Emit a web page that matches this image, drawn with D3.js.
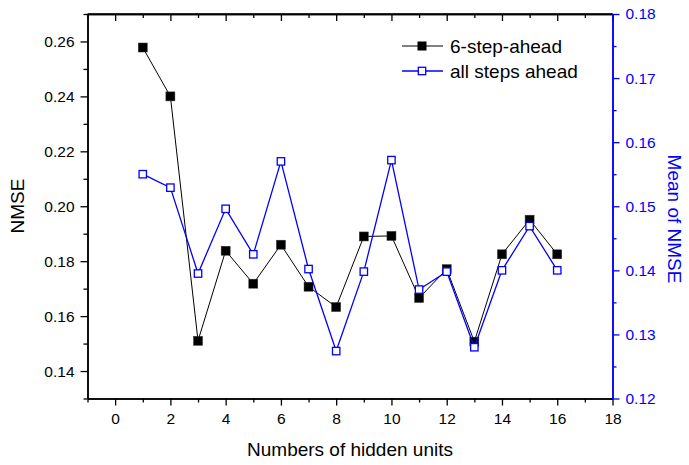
<!DOCTYPE html>
<html>
<head>
<meta charset="utf-8">
<script src="https://cdn.jsdelivr.net/npm/d3@7"></script>
<style>
  body { margin: 0; background: #fff; }
  text { font-family: "Liberation Sans", Arial, sans-serif; }
</style>
</head>
<body>
<script>
const WIDTH = 689;
const HEIGHT = 465;

// hidden units on x
const units = [1,2,3,4,5,6,7,8,9,10,11,12,13,14,15,16];
// 6-step-ahead NMSE (left axis)
const sixStep = [0.2578,0.2400,0.1510,0.1838,0.1718,0.1860,0.1707,0.1633,0.1890,0.1892,0.1666,0.1771,0.1507,0.1825,0.1951,0.1825];
// mean NMSE over all steps ahead (right axis)
const allSteps = [0.1550,0.1529,0.1395,0.1496,0.1425,0.1570,0.1402,0.1274,0.1398,0.1572,0.1370,0.1398,0.1280,0.1400,0.1469,0.1400];

const xTicks = [0,2,4,6,8,10,12,14,16,18];
const leftTicks = [0.14,0.16,0.18,0.20,0.22,0.24,0.26];
const rightTicks = [0.12,0.13,0.14,0.15,0.16,0.17,0.18];

function setup(){
    let svg = d3.select("body")
        .append("svg")
        .attr("width",WIDTH)
        .attr("height",HEIGHT);

    let x = d3.scaleLinear().domain([-1,18]).range([87.5,612.5]);
    let yL = d3.scaleLinear().domain([0.13,0.27]).range([398.5,14]);
    let yR = d3.scaleLinear().domain([0.12,0.18]).range([398.5,14]);

    let minorX = d3.range(-1,18,2);
    let minorL = d3.range(0.13,0.271,0.02).map(d => +d.toFixed(2));
    let minorR = d3.range(0.125,0.18,0.01).map(d => +d.toFixed(3));

    function styleAxis(g,color){
        g.selectAll("path").attr("stroke",color).attr("stroke-width",1.5);
        g.selectAll("line").attr("stroke",color).attr("stroke-width",1.3);
        g.selectAll("text").attr("fill",color).style("font-size","15.5px")
            .style("font-family","'Liberation Sans', Arial, sans-serif");
    }

    // top frame line
    svg.append("line")
        .attr("x1",x(-1)).attr("x2",x(18))
        .attr("y1",14).attr("y2",14)
        .attr("stroke","#000").attr("stroke-width",1.5);

    // bottom axis
    let gb = svg.append("g").attr("transform","translate(0,398.5)")
        .call(d3.axisBottom(x).tickValues(xTicks).tickFormat(d3.format("d")).tickSize(7).tickSizeOuter(0).tickPadding(7));
    styleAxis(gb,"#000");
    let gbm = svg.append("g").attr("transform","translate(0,398.5)")
        .call(d3.axisBottom(x).tickValues(minorX).tickFormat("").tickSize(4).tickSizeOuter(0));
    styleAxis(gbm,"#000");

    // top axis, ticks inward
    let gt = svg.append("g").attr("transform","translate(0,14)")
        .call(d3.axisBottom(x).tickValues(xTicks).tickFormat("").tickSize(7).tickSizeOuter(0));
    styleAxis(gt,"#000");
    let gtm = svg.append("g").attr("transform","translate(0,14)")
        .call(d3.axisBottom(x).tickValues(minorX).tickFormat("").tickSize(4).tickSizeOuter(0));
    styleAxis(gtm,"#000");

    // left axis
    let gl = svg.append("g").attr("transform","translate(87.5,0)")
        .call(d3.axisLeft(yL).tickValues(leftTicks).tickFormat(d3.format(".2f")).tickSize(7).tickSizeOuter(0).tickPadding(6));
    styleAxis(gl,"#000");
    let glm = svg.append("g").attr("transform","translate(87.5,0)")
        .call(d3.axisLeft(yL).tickValues(minorL).tickFormat("").tickSize(4).tickSizeOuter(0));
    styleAxis(glm,"#000");

    // right axis (blue)
    let gr = svg.append("g").attr("transform","translate(612.5,0)")
        .call(d3.axisRight(yR).tickValues(rightTicks).tickFormat(d3.format(".2f")).tickSize(7).tickSizeOuter(0).tickPadding(6));
    styleAxis(gr,"#0000ff");
    let grm = svg.append("g").attr("transform","translate(612.5,0)")
        .call(d3.axisRight(yR).tickValues(minorR).tickFormat("").tickSize(4).tickSizeOuter(0));
    styleAxis(grm,"#0000ff");

    // axis titles
    svg.append("text")
        .attr("transform","translate(24,206) rotate(-90)")
        .attr("text-anchor","middle")
        .style("font-size","19px")
        .text("NMSE");
    svg.append("text")
        .attr("transform","translate(668,219) rotate(90)")
        .attr("text-anchor","middle")
        .attr("fill","#0000ff")
        .style("font-size","19px")
        .text("Mean of NMSE");
    svg.append("text")
        .attr("x",350).attr("y",456)
        .attr("text-anchor","middle")
        .style("font-size","19px")
        .text("Numbers of hidden units");

    // 6-step-ahead series
    let blackData = units.map((u,i) => [u,sixStep[i]]);
    svg.append("path")
        .datum(blackData)
        .attr("fill","none")
        .attr("stroke","#000")
        .attr("stroke-width",1)
        .attr("d",d3.line().x(d => x(d[0])).y(d => yL(d[1])));
    svg.selectAll(".blk")
        .data(blackData)
        .enter()
        .append("rect")
        .attr("class","blk")
        .attr("x",d => x(d[0]) - 4.5)
        .attr("y",d => yL(d[1]) - 4.5)
        .attr("width",9).attr("height",9)
        .attr("fill","#000")
        .attr("stroke","#333")
        .attr("stroke-width",0.5);

    // all steps ahead series
    let blueData = units.map((u,i) => [u,allSteps[i]]);
    svg.append("path")
        .datum(blueData)
        .attr("fill","none")
        .attr("stroke","#0000ff")
        .attr("stroke-width",1.3)
        .attr("d",d3.line().x(d => x(d[0])).y(d => yR(d[1])));
    svg.selectAll(".blu")
        .data(blueData)
        .enter()
        .append("rect")
        .attr("class","blu")
        .attr("x",d => x(d[0]) - 3.7)
        .attr("y",d => yR(d[1]) - 3.7)
        .attr("width",7.4).attr("height",7.4)
        .attr("fill","#fff")
        .attr("stroke","#0000ff")
        .attr("stroke-width",1.3);

    // legend
    let legend = svg.append("g");
    legend.append("line").attr("x1",402).attr("x2",443).attr("y1",46).attr("y2",46)
        .attr("stroke","#000").attr("stroke-width",1);
    legend.append("rect").attr("x",422 - 4.5).attr("y",46 - 4.5).attr("width",9).attr("height",9)
        .attr("fill","#000");
    legend.append("text").attr("x",450).attr("y",46).attr("dy","0.35em")
        .style("font-size","19px").text("6-step-ahead");
    legend.append("line").attr("x1",402).attr("x2",443).attr("y1",71).attr("y2",71)
        .attr("stroke","#0000ff").attr("stroke-width",1.3);
    legend.append("rect").attr("x",422 - 3.7).attr("y",71 - 3.7).attr("width",7.4).attr("height",7.4)
        .attr("fill","#fff").attr("stroke","#0000ff").attr("stroke-width",1.3);
    legend.append("text").attr("x",450).attr("y",71).attr("dy","0.35em")
        .style("font-size","19px").text("all steps ahead");
}

window.addEventListener("load",setup);
</script>
</body>
</html>
